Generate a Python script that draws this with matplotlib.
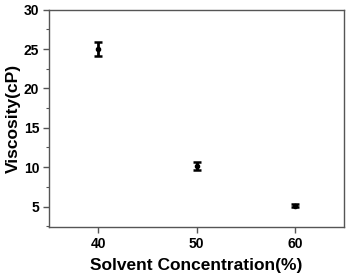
import matplotlib
matplotlib.use("Agg")
import matplotlib.pyplot as plt
from matplotlib.ticker import MultipleLocator

concentration = [40, 50, 60]
viscosity = [25.0, 10.2, 5.1]
error = [0.9, 0.5, 0.2]

plt.rcParams['font.family'] = ['Liberation Sans', 'DejaVu Sans']
plt.rcParams['font.weight'] = 'bold'

fig = plt.figure(figsize=(3.47, 2.73), dpi=100)
ax = fig.add_axes([49/347, 1-227/273, (344-49)/347, (227-9.7)/273])

ax.errorbar(concentration, viscosity, yerr=error, fmt='o', color='black',
            markersize=3, capsize=3, elinewidth=2, capthick=1.8)

ax.set_xlim(35, 65)
ax.set_ylim(2.4, 30)
ax.set_xticks([40, 50, 60])
ax.yaxis.set_major_locator(MultipleLocator(5))
ax.yaxis.set_minor_locator(MultipleLocator(2.5))
ax.set_yticks([5, 10, 15, 20, 25, 30])

for s in ax.spines.values():
    s.set_color('#555555')
    s.set_linewidth(1.0)

ax.tick_params(axis='both', which='major', direction='out', length=4, width=1,
               labelsize=10, color='#555555', top=False, right=False, pad=3)
ax.tick_params(axis='y', which='minor', direction='out', length=2.5, width=0.8, color='#555555')
for lbl in ax.get_xticklabels() + ax.get_yticklabels():
    lbl.set_fontweight('bold')

ax.set_xlabel('Solvent Concentration(%)', fontsize=12.5, fontweight='bold', labelpad=5)
ax.set_ylabel('Viscosity(cP)', fontsize=12.5, fontweight='bold', labelpad=2)

fig.savefig('out.png', dpi=100)
